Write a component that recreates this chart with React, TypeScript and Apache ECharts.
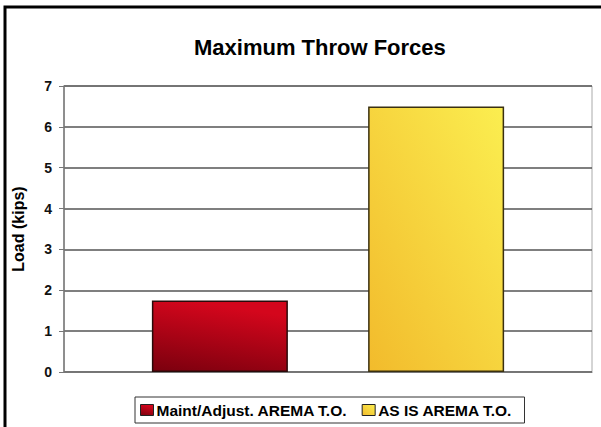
import React, { useEffect, useRef } from "react";
import * as echarts from "echarts";

const titleText = "Maximum Throw Forces";
const yAxisName = "Load (kips)";
const categories = [""];
const seriesNames = ["Maint/Adjust. AREMA T.O.", "AS IS AREMA T.O."];
const maintValues = [1.75];
const asIsValues = [6.5];
const yMin = 0;
const yMax = 7;
const yInterval = 1;

export default function App() {
  const ref = useRef<HTMLDivElement>(null);
  useEffect(() => {
    if (!ref.current) return;
    const chart = echarts.init(ref.current, undefined, { renderer: "svg" });
    const redGrad = new echarts.graphic.LinearGradient(0.3, 0, 0, 1, [
      { offset: 0, color: "#d4061c" },
      { offset: 1, color: "#7a000e" },
    ]);
    const yellowGrad = new echarts.graphic.LinearGradient(1, 0, 0, 1, [
      { offset: 0, color: "#fbee50" },
      { offset: 1, color: "#f2bb2c" },
    ]);
    chart.setOption({
      animation: false,
      backgroundColor: "#ffffff",
      textStyle: { fontFamily: "Liberation Sans, Arial, sans-serif" },
      title: {
        text: titleText,
        left: 189,
        top: 31,
        textStyle: { fontSize: 22, fontWeight: "bold", color: "#000" },
      },
      legend: {
        left: 135,
        top: 397,
        padding: [5, 12, 5, 5],
        borderColor: "#333",
        borderWidth: 1,
        itemWidth: 13,
        itemHeight: 11,
        itemGap: 14,
        icon: "rect",
        itemStyle: { borderColor: "#222", borderWidth: 1 },
        textStyle: { fontSize: 15.5, fontWeight: "bold", color: "#000", padding: [0, 0, 0, -2] },
        data: seriesNames,
      },
      grid: {
        left: 64,
        right: 9,
        top: 86,
        bottom: 55,
        show: true,
        borderColor: "#aaa",
        borderWidth: 1,
      },
      xAxis: {
        type: "category",
        data: categories,
        axisLabel: { show: false },
        axisTick: { show: false },
        axisLine: { lineStyle: { color: "#777", width: 1 } },
      },
      yAxis: {
        type: "value",
        min: yMin,
        max: yMax,
        interval: yInterval,
        name: yAxisName,
        nameLocation: "middle",
        nameGap: 38,
        nameTextStyle: { fontSize: 16, fontWeight: "bold", color: "#000" },
        axisLine: { show: true, lineStyle: { color: "#777", width: 1.5 } },
        axisTick: { show: true, length: 5, lineStyle: { color: "#777" } },
        axisLabel: { fontSize: 14, fontWeight: "bold", color: "#111", margin: 12 },
        splitLine: { lineStyle: { color: "#555", width: 1.5 } },
      },
      series: [
        {
          name: seriesNames[0],
          type: "bar",
          data: maintValues,
          barWidth: 136,
          barGap: "59%",
          itemStyle: { color: redGrad, borderColor: "#2a0a0a", borderWidth: 1.5 },
        },
        {
          name: seriesNames[1],
          type: "bar",
          data: asIsValues,
          barWidth: 136,
          barGap: "59%",
          itemStyle: { color: yellowGrad, borderColor: "#3a3010", borderWidth: 1.5 },
        },
      ],
      graphic: [
        {
          type: "rect",
          shape: { x: 5, y: 7, width: 700, height: 500 },
          style: { fill: "none", stroke: "#000", lineWidth: 3 },
          silent: true,
        },
      ],
    });
    return () => chart.dispose();
  }, []);
  return (
    <div
      ref={ref}
      style={{ position: "fixed", left: 0, top: 0, width: 601, height: 427, background: "#fff" }}
    />
  );
}
